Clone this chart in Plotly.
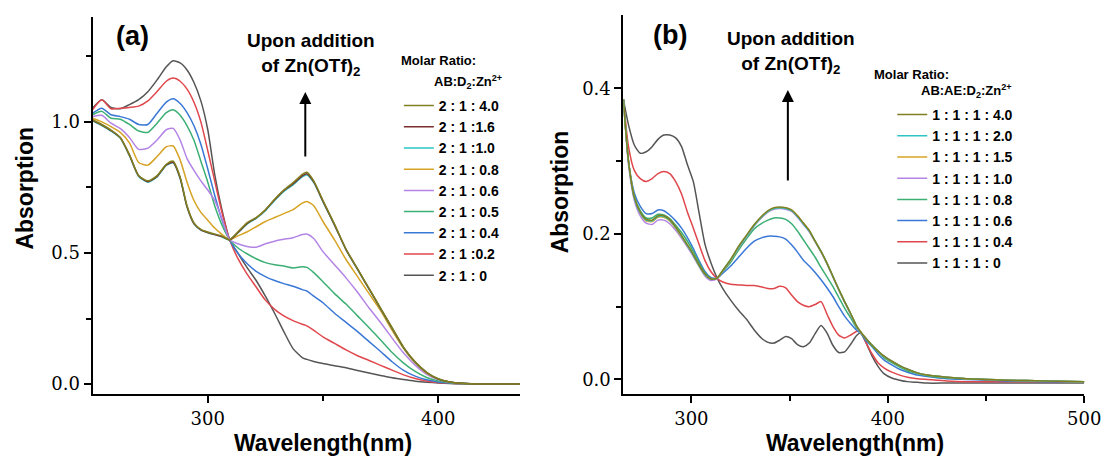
import plotly.graph_objects as go

W, H = 1120, 457

# ---------------- Panel (a) data ----------------
WL_A = [250, 254, 258, 262, 266, 270, 274, 278, 282, 285, 288, 291, 294, 297, 300, 303, 306, 309.5,
        313, 317, 321, 325, 329, 333, 337, 341, 343, 346, 350, 355, 360, 365, 370, 375, 380, 385,
        390, 395, 400, 405, 410, 420, 435.5]

A_0 = [1.052, 1.084, 1.055, 1.05, 1.066, 1.085, 1.115, 1.16, 1.21, 1.233, 1.225, 1.198, 1.15, 1.08,
       0.97, 0.80, 0.67, 0.55, 0.50, 0.445, 0.395, 0.335, 0.27, 0.20, 0.135, 0.101, 0.094, 0.086, 0.078,
       0.07, 0.062, 0.052, 0.042, 0.033, 0.024, 0.017, 0.011, 0.007, 0.004, 0.002, 0.001, 0.0, 0.0]
A_02 = [1.046, 1.084, 1.05, 1.052, 1.055, 1.06, 1.08, 1.116, 1.155, 1.167, 1.155, 1.125, 1.075, 1.0,
        0.89, 0.775, 0.66, 0.55, 0.48, 0.42, 0.37, 0.32, 0.285, 0.26, 0.242, 0.228, 0.222, 0.205, 0.18,
        0.155, 0.13, 0.108, 0.09, 0.071, 0.053, 0.035, 0.021, 0.012, 0.006, 0.003, 0.001, 0.0, 0.0]
A_04 = [1.033, 1.052, 1.027, 1.02, 1.01, 0.99, 0.99, 1.033, 1.075, 1.088, 1.07, 1.035, 0.985, 0.915,
        0.82, 0.72, 0.63, 0.55, 0.50, 0.46, 0.43, 0.41, 0.395, 0.383, 0.373, 0.36, 0.355, 0.335, 0.31,
        0.27, 0.235, 0.20, 0.162, 0.124, 0.085, 0.052, 0.03, 0.016, 0.008, 0.004, 0.002, 0.0, 0.0]
A_05 = [1.027, 1.04, 1.014, 1.01, 0.99, 0.965, 0.96, 0.995, 1.035, 1.046, 1.025, 0.985, 0.93, 0.85,
        0.77, 0.68, 0.61, 0.55, 0.52, 0.497, 0.478, 0.463, 0.455, 0.45, 0.443, 0.447, 0.445, 0.425, 0.39,
        0.345, 0.305, 0.26, 0.215, 0.168, 0.12, 0.08, 0.048, 0.025, 0.012, 0.005, 0.002, 0.0, 0.0]
A_06 = [1.02, 1.025, 0.995, 0.975, 0.94, 0.895, 0.9, 0.931, 0.97, 0.975, 0.931, 0.86, 0.815, 0.775,
        0.74, 0.70, 0.635, 0.55, 0.535, 0.525, 0.522, 0.535, 0.545, 0.552, 0.558, 0.57, 0.572, 0.555,
        0.505, 0.455, 0.405, 0.35, 0.29, 0.235, 0.175, 0.118, 0.072, 0.037, 0.017, 0.007, 0.003, 0.0, 0.0]
A_08 = [1.014, 1.0, 0.982, 0.96, 0.92, 0.845, 0.835, 0.868, 0.905, 0.908, 0.855, 0.77, 0.70, 0.655,
        0.625, 0.595, 0.572, 0.55, 0.565, 0.58, 0.60, 0.62, 0.635, 0.65, 0.665, 0.69, 0.696, 0.68, 0.62,
        0.55, 0.475, 0.41, 0.345, 0.28, 0.205, 0.135, 0.08, 0.042, 0.019, 0.008, 0.003, 0.0, 0.0]
A_10 = [1.004, 0.986, 0.965, 0.938, 0.871, 0.792, 0.77, 0.79, 0.834, 0.844, 0.784, 0.675, 0.611, 0.587,
        0.577, 0.57, 0.562, 0.55, 0.576, 0.61, 0.632, 0.661, 0.7, 0.735, 0.76, 0.79, 0.797, 0.768, 0.695,
        0.606, 0.512, 0.437, 0.362, 0.287, 0.212, 0.138, 0.083, 0.044, 0.019, 0.008, 0.003, 0.0, 0.0]
A_16 = [1.006, 0.988, 0.967, 0.94, 0.873, 0.794, 0.772, 0.792, 0.836, 0.846, 0.786, 0.676, 0.612, 0.588,
        0.578, 0.57, 0.563, 0.55, 0.577, 0.612, 0.634, 0.664, 0.703, 0.738, 0.763, 0.794, 0.802, 0.771,
        0.697, 0.607, 0.513, 0.438, 0.363, 0.288, 0.213, 0.139, 0.084, 0.044, 0.019, 0.008, 0.003, 0.0, 0.0]
A_40 = [1.008, 0.99, 0.969, 0.94, 0.875, 0.795, 0.775, 0.795, 0.838, 0.85, 0.79, 0.68, 0.615, 0.59,
        0.58, 0.572, 0.565, 0.55, 0.58, 0.615, 0.635, 0.665, 0.705, 0.74, 0.768, 0.80, 0.808, 0.775, 0.70,
        0.61, 0.515, 0.44, 0.365, 0.29, 0.215, 0.14, 0.085, 0.045, 0.02, 0.008, 0.003, 0.0, 0.0]

NAMES_A = ["2 : 1 : 0", "2 : 1 :0.2", "2 : 1 : 0.4", "2 : 1 : 0.5", "2 : 1 : 0.6",
           "2 : 1 : 0.8", "2 : 1 :1.0", "2 : 1 :1.6", "2 : 1 : 4.0"]
SERIES_A = [A_0, A_02, A_04, A_05, A_06, A_08, A_10, A_16, A_40]
COLORS_A = ["#555555", "#e0474c", "#3a78d6", "#3caf74", "#b384e6",
            "#d6a324", "#2ec4c4", "#7a2e2e", "#808020"]

XTICKS_A = [300, 400]
XTICKTEXT_A = ["300", "400"]
YTICKS_A = [0.0, 0.5, 1.0]
YTICKTEXT_A = ["0.0", "0.5", "1.0"]

# ---------------- Panel (b) data ----------------
WL_B = [265.4, 268, 271, 274, 277, 280, 283, 286, 289, 292, 295, 298, 301, 304, 307, 310, 313, 316,
        320, 324, 328, 332, 336, 339, 342, 345, 348, 351, 354, 357, 360, 363, 366, 369, 372, 375, 378,
        381, 384, 386, 389, 392, 395, 398, 402, 406, 410, 415, 420, 430, 440, 450, 460, 480, 500]

B_0 = [0.385, 0.35, 0.322, 0.311, 0.313, 0.32, 0.33, 0.336, 0.336, 0.332, 0.32, 0.295, 0.272, 0.228,
       0.185, 0.16, 0.14, 0.125, 0.109, 0.095, 0.083, 0.068, 0.056, 0.051, 0.05, 0.054, 0.059, 0.056,
       0.048, 0.045, 0.05, 0.063, 0.074, 0.064, 0.047, 0.037, 0.038, 0.048, 0.06, 0.064, 0.05, 0.032,
       0.018, 0.008, 0.002, -0.001, -0.003, -0.004, -0.005, -0.005, -0.005, -0.005, -0.005, -0.005, -0.005]
B_04 = [0.385, 0.32, 0.287, 0.276, 0.272, 0.276, 0.283, 0.286, 0.283, 0.272, 0.255, 0.23, 0.208, 0.185,
        0.163, 0.148, 0.139, 0.134, 0.131, 0.13, 0.129, 0.129, 0.127, 0.125, 0.125, 0.128, 0.126, 0.116,
        0.107, 0.102, 0.10, 0.103, 0.107, 0.09, 0.073, 0.061, 0.057, 0.061, 0.066, 0.066, 0.05, 0.035,
        0.023, 0.016, 0.01, 0.006, 0.003, 0.001, 0.0, -0.002, -0.003, -0.003, -0.003, -0.003, -0.003]
B_06 = [0.385, 0.30, 0.256, 0.238, 0.228, 0.228, 0.233, 0.232, 0.226, 0.218, 0.208, 0.195, 0.18, 0.163,
        0.148, 0.14, 0.139, 0.146, 0.156, 0.168, 0.18, 0.19, 0.195, 0.197, 0.197, 0.196, 0.193, 0.185,
        0.175, 0.164, 0.156, 0.147, 0.137, 0.126, 0.114, 0.10, 0.087, 0.077, 0.068, 0.064, 0.053, 0.045,
        0.035, 0.027, 0.02, 0.014, 0.01, 0.006, 0.004, 0.001, 0.0, -0.001, -0.002, -0.003, -0.003]
B_08 = [0.385, 0.30, 0.252, 0.232, 0.222, 0.222, 0.227, 0.226, 0.221, 0.212, 0.202, 0.19, 0.176, 0.16,
        0.146, 0.139, 0.139, 0.148, 0.161, 0.178, 0.193, 0.207, 0.215, 0.219, 0.222, 0.222, 0.22, 0.214,
        0.204, 0.192, 0.18, 0.168, 0.154, 0.141, 0.128, 0.113, 0.098, 0.085, 0.071, 0.065, 0.055, 0.046,
        0.038, 0.03, 0.023, 0.017, 0.012, 0.008, 0.005, 0.002, 0.001, 0.0, -0.001, -0.002, -0.003]
B_10 = [0.385, 0.295, 0.246, 0.225, 0.215, 0.213, 0.219, 0.219, 0.214, 0.205, 0.194, 0.182, 0.169, 0.155,
        0.142, 0.136, 0.138, 0.149, 0.164, 0.181, 0.196, 0.211, 0.223, 0.23, 0.234, 0.235, 0.234, 0.231,
        0.223, 0.213, 0.203, 0.189, 0.175, 0.159, 0.141, 0.123, 0.106, 0.09, 0.073, 0.065, 0.056, 0.047,
        0.039, 0.032, 0.025, 0.019, 0.014, 0.009, 0.006, 0.003, 0.001, 0.0, -0.001, -0.002, -0.003]
B_15 = [0.385, 0.30, 0.25, 0.229, 0.218, 0.217, 0.223, 0.223, 0.218, 0.208, 0.196, 0.184, 0.171, 0.156,
        0.144, 0.138, 0.139, 0.15, 0.164, 0.182, 0.197, 0.212, 0.224, 0.231, 0.235, 0.236, 0.236, 0.232,
        0.225, 0.215, 0.205, 0.19, 0.176, 0.16, 0.142, 0.124, 0.107, 0.091, 0.074, 0.066, 0.056, 0.047,
        0.039, 0.032, 0.025, 0.019, 0.014, 0.009, 0.006, 0.003, 0.001, 0.0, -0.001, -0.002, -0.003]
B_20 = [0.385, 0.30, 0.249, 0.229, 0.219, 0.218, 0.224, 0.224, 0.219, 0.209, 0.197, 0.184, 0.171, 0.156,
        0.144, 0.138, 0.139, 0.15, 0.165, 0.182, 0.197, 0.212, 0.224, 0.231, 0.235, 0.236, 0.235, 0.232,
        0.224, 0.214, 0.204, 0.19, 0.176, 0.16, 0.142, 0.124, 0.107, 0.091, 0.074, 0.066, 0.056, 0.047,
        0.039, 0.032, 0.025, 0.019, 0.014, 0.009, 0.006, 0.003, 0.001, 0.0, -0.001, -0.002, -0.003]
B_40 = [0.385, 0.30, 0.25, 0.23, 0.22, 0.219, 0.225, 0.225, 0.22, 0.21, 0.198, 0.185, 0.172, 0.157,
        0.145, 0.138, 0.139, 0.15, 0.165, 0.183, 0.198, 0.213, 0.225, 0.232, 0.236, 0.237, 0.236, 0.233,
        0.225, 0.215, 0.205, 0.19, 0.176, 0.16, 0.142, 0.124, 0.107, 0.091, 0.074, 0.066, 0.056, 0.047,
        0.039, 0.032, 0.025, 0.019, 0.014, 0.009, 0.006, 0.003, 0.001, 0.0, -0.001, -0.002, -0.003]

NAMES_B = ["1 : 1 : 1 : 0", "1 : 1 : 1 : 0.4", "1 : 1 : 1 : 0.6", "1 : 1 : 1 : 0.8",
           "1 : 1 : 1 : 1.0", "1 : 1 : 1 : 1.5", "1 : 1 : 1 : 2.0", "1 : 1 : 1 : 4.0"]
SERIES_B = [B_0, B_04, B_06, B_08, B_10, B_15, B_20, B_40]
COLORS_B = ["#555555", "#e0474c", "#3a78d6", "#3caf74", "#b384e6", "#d6a324", "#2ec4c4", "#808020"]

XTICKS_B = [300, 400, 500]
XTICKTEXT_B = ["300", "400", "500"]
YTICKS_B = [0.0, 0.2, 0.4]
YTICKTEXT_B = ["0.0", "0.2", "0.4"]

for s in SERIES_A:
    assert len(s) == len(WL_A), len(s)
for s in SERIES_B:
    assert len(s) == len(WL_B), len(s)


def px(x):
    return x / W


def py(y):
    return 1 - y / H


fig = go.Figure()
for name, vals, col in zip(NAMES_A, SERIES_A, COLORS_A):
    fig.add_trace(go.Scatter(x=WL_A, y=vals, name=name, mode="lines",
                             line=dict(color=col, width=1.5, shape="spline", smoothing=0.6),
                             xaxis="x", yaxis="y", legend="legend"))
for name, vals, col in zip(NAMES_B, SERIES_B, COLORS_B):
    fig.add_trace(go.Scatter(x=WL_B, y=vals, name=name, mode="lines",
                             line=dict(color=col, width=1.5, shape="spline", smoothing=0.6),
                             xaxis="x2", yaxis="y2", legend="legend2"))

SANS = "Liberation Sans, Arial, sans-serif"
SERIF = "DejaVu Serif, serif"

axis_common = dict(showline=True, linewidth=2, linecolor="black", ticks="outside", ticklen=7,
                   tickwidth=1.5, tickcolor="black", showgrid=False, zeroline=False, mirror=False,
                   tickfont=dict(family=SERIF, size=18, color="black"), tickmode="array")
minor_common = dict(ticks="outside", ticklen=5, tickwidth=1.5, tickcolor="black", showgrid=False)

legend_common = dict(xanchor="left", yanchor="top", bgcolor="rgba(0,0,0,0)", borderwidth=0,
                     font=dict(family=SANS, size=14, color="black", weight="bold"),
                     traceorder="reversed", itemwidth=30, tracegroupgap=0)

fig.update_layout(
    width=W, height=H, margin=dict(l=0, r=0, t=0, b=0),
    paper_bgcolor="white", plot_bgcolor="white", showlegend=True,
    xaxis=dict(domain=[px(94), px(528)], range=[250, 435.5], tickvals=XTICKS_A, ticktext=XTICKTEXT_A,
               minor=dict(tickmode="array", tickvals=[350], **minor_common), anchor="y", **axis_common),
    yaxis=dict(domain=[py(394), py(17)], range=[-0.038, 1.40], tickvals=YTICKS_A, ticktext=YTICKTEXT_A,
               minor=dict(tickmode="array", tickvals=[0.25, 0.75, 1.25], **minor_common), anchor="x",
               **axis_common),
    xaxis2=dict(domain=[px(633), px(1101)], range=[265.4, 500], tickvals=XTICKS_B, ticktext=XTICKTEXT_B,
                minor=dict(tickmode="array", tickvals=[350, 450], **minor_common), anchor="y2",
                **axis_common),
    yaxis2=dict(domain=[py(394), py(15)], range=[-0.020, 0.501], tickvals=YTICKS_B, ticktext=YTICKTEXT_B,
                minor=dict(tickmode="array", tickvals=[0.1, 0.3], **minor_common), anchor="x2",
                **axis_common),
    legend=dict(x=px(405), y=py(90), **legend_common),
    legend2=dict(x=px(906), y=py(99), **legend_common),
)

ann = []


def text(t, x, y, size, xanchor="center", angle=0, yanchor="middle"):
    ann.append(dict(text="<b>" + t + "</b>", x=px(x), y=py(y), xref="paper", yref="paper",
                    showarrow=False, xanchor=xanchor, yanchor=yanchor, textangle=angle,
                    font=dict(family=SANS, size=size, color="black")))


text("(a)", 135, 36, 27)
text("(b)", 680, 35, 27)
text("Upon addition<br>of Zn(OTf)<sub>2</sub>", 316, 54, 19)
text("Upon addition<br>of Zn(OTf)<sub>2</sub>", 803, 52, 19)
text("Absorption", 25, 188, 23, angle=-90)
text("Absorption", 569, 192, 23, angle=-90)
text("Wavelength(nm)", 328, 443, 23)
text("Wavelength(nm)", 868, 443, 23)
text("Molar Ratio:", 405, 61, 13, xanchor="left")
text("AB:D<sub>2</sub>:Zn<sup>2+</sup>", 439, 82, 13, xanchor="left")
text("Molar Ratio:", 885, 74, 13, xanchor="left")
text("AB:AE:D<sub>2</sub>:Zn<sup>2+</sup>", 933, 91, 13, xanchor="left")

for (x, ytip, ytail) in [(310, 92, 158), (800, 90, 182)]:
    ann.append(dict(x=px(x), y=py(ytip), xref="paper", yref="paper", ax=0, ay=ytail - ytip,
                    showarrow=True, arrowhead=2, arrowsize=1.2, arrowwidth=2, arrowcolor="black",
                    text=""))

fig.update_layout(annotations=ann)
fig.write_html("out.html")
